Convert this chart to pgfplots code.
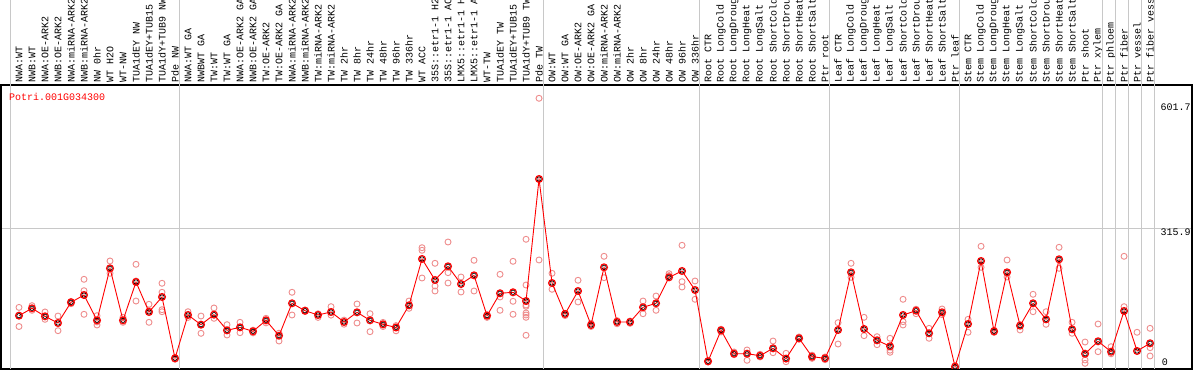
\documentclass[border=0pt]{standalone}
\usepackage{pgfplots}
\pgfplotsset{compat=1.18}
\usepackage{pgfplotstable}
\usepackage{fontspec}
\setmonofont{Liberation Mono}
\definecolor{sepgray}{RGB}{200,200,200}
\definecolor{reppink}{RGB}{238,140,140}
\pgfplotstableread{
x y
1 123.8
2 140
3 122.4
4 107.7
5 153.2
6 169.2
7 113.6
8 227.9
9 113.6
10 197.8
11 131.9
12 164.9
13 30.1
14 125.3
15 104
16 126
17 91.6
18 98.2
19 89.4
20 113.6
21 79.8
22 151
23 134.7
24 125.3
25 131.9
26 109.9
27 131.2
28 113.6
29 104.8
30 97.8
31 146.6
32 248.4
33 202.2
34 232.3
35 193.4
36 212.5
37 123.8
38 173
39 175.2
40 156
41 424.2
42 195.6
43 127.5
44 178
45 103.3
46 230.1
47 109.9
48 109.9
49 142.2
50 151
51 208.1
52 222
53 180.2
54 23.5
55 91.6
56 40.2
57 40.2
58 35.8
59 52.1
60 29.5
61 74.1
62 33.6
63 30.1
64 92.3
65 219.1
66 94.5
67 69.7
68 56.5
69 125.3
70 134.7
71 85.1
72 131.2
73 11.6
74 105.5
75 244
76 89.4
77 219.1
78 101.8
79 151
80 115.8
81 247.7
82 93.8
83 40.2
84 67.5
85 44.6
86 134.1
87 46.2
88 63.1
}\meantable
\pgfplotstableread{
x y
1 142
1 100
1 124
2 145.8
2 135.6
3 131.9
3 115.8
4 123
4 90.8
5 155
5 150
6 203.7
6 178.7
6 126.8
7 123.8
7 103.3
7 110
8 244
8 216.9
9 120.2
9 109.2
10 236.7
10 156
10 200
11 148.8
11 109.2
11 135
12 195
12 175.2
12 136.9
12 132.5
13 32
13 28
14 132.5
14 120
15 123
15 85
15 104
16 140.7
16 118
17 104
17 81.3
18 109.2
18 86.4
19 92
19 86
20 118
20 108
21 85.3
21 68.1
22 175.2
22 125.3
23 136
23 133
24 128
24 120
25 143.6
25 125
26 114
26 105
27 149.5
27 107.7
28 128.1
28 88.6
29 109
29 100
30 102
30 90.5
31 156
31 140
32 273.2
32 267.5
32 206.6
33 238.9
33 189
33 178
34 285.7
34 218.3
34 195.6
35 208.8
35 175.8
36 245.5
36 178
37 126
37 120
38 214.7
38 164.9
38 135.6
39 243.3
39 155.4
39 126.8
40 291.7
40 191.2
40 147.3
40 144.4
40 129.7
40 125.3
40 120.2
40 80.7
41 601.6
41 246.2
42 216.9
42 181.8
43 129
43 124
44 201.6
44 153.9
45 107
45 100
46 254.3
46 207.3
47 113
47 106
48 112
48 107
49 156
49 128.1
50 167
50 135.6
51 216.1
51 212
52 278.5
52 198.5
52 186.8
53 200
53 159.8
54 25
54 22
55 88
55 94
56 44
56 38
57 48.4
57 25.7
58 39
58 33
59 68.1
59 42.4
60 41.1
60 22.6
61 77
61 72
62 37
62 30
63 33
63 27
64 108.4
64 61.5
65 238.9
65 208.1
66 120.2
66 79.8
67 77.6
67 60
68 74.1
68 48
68 43.3
69 159.8
69 110.6
69 103.3
70 138
70 128.1
71 96
71 74.1
72 138.5
72 126
73 14
73 9
74 115.8
74 87.3
75 276.3
75 230.1
76 92
76 87
77 246.2
77 208.8
78 104
78 92.3
79 170.8
79 132.5
80 132.5
80 104.8
81 274.1
81 227.9
82 109.2
82 85.1
83 65.9
83 26.4
83 19.1
84 105.5
84 44.6
85 55.6
85 40
86 254.3
86 143.6
86 4.4
87 87.3
87 4.4
88 96
88 53.4
88 35.2
}\reptable
\begin{document}
\begin{tikzpicture}
\begin{axis}[
  at={(0,0)}, anchor=south west,
  scale only axis,
  width=1191bp, height=284bp,
  xmin=-0.3846, xmax=91.2308,
  ymin=6.59, ymax=630.8,
  axis line style={black, line width=1.3bp},
  clip marker paths=true,
  xtick={1,...,88},
  xticklabels={NWA:WT,NWB:WT,NWA:OE-ARK2,NWB:OE-ARK2,NWA:miRNA-ARK2,NWB:miRNA-ARK2,NW 0hr,WT H2O,WT-NW,TUA1dEY NW,TUA1dEY+TUB15,TUA1dY+TUB9 NW,Pde NW,NWA:WT GA,NWBWT GA,TW:WT,TW:WT GA,NWA:OE-ARK2 GA,NWB:OE-ARK2 GA,TW:OE-ARK2,TW:OE-ARK2 GA,NWA:miRNA-ARK2,NWB:miRNA-ARK2,TW:miRNA-ARK2,TW:miRNA-ARK2,TW 2hr,TW 8hr,TW 24hr,TW 48hr,TW 96hr,TW 336hr,WT ACC,35S::etr1-1 H2,35S::etr1-1 AC,LMX5::etr1-1 H,LMX5::etr1-1 A,WT-TW,TUA1dEY TW,TUA1dEY+TUB15,TUA1dY+TUB9 TW,Pde TW,OW:WT,OW:WT GA,OW:OE-ARK2,OW:OE-ARK2 GA,OW:miRNA-ARK2,OW:miRNA-ARK2,OW 2hr,OW 8hr,OW 24hr,OW 48hr,OW 96hr,OW 336hr,Root CTR,Root LongCold,Root LongDroug,Root LongHeat,Root LongSalt,Root ShortCold,Root ShortDrou,Root ShortHeat,Root ShortSalt,Ptr root,Leaf CTR,Leaf LongCold,Leaf LongDroug,Leaf LongHeat,Leaf LongSalt,Leaf ShortCold,Leaf ShortDrou,Leaf ShortHeat,Leaf ShortSalt,Ptr leaf,Stem CTR,Stem LongCold,Stem LongDroug,Stem LongHeat,Stem LongSalt,Stem ShortCold,Stem ShortDrou,Stem ShortHeat,Stem ShortSalt,Ptr shoot,Ptr xylem,Ptr phloem,Ptr fiber,Ptr vessel,Ptr fiber vess},
  xtick pos=right,
  xticklabel pos=right,
  major tick length=0pt,
  xticklabel shift=2bp,
  xticklabel style={rotate=90, anchor=west, inner sep=0pt, font=\ttfamily\fontsize{10bp}{12bp}\selectfont},
  extra x ticks={0.36,13.36,41.36,53.36,63.36,73.36,84.36,85.36,86.36,87.36,88.36},
  extra x tick labels={},
  extra x tick style={grid=major, major tick length=90bp, tick align=outside,
     tick style={draw=sepgray, line width=1bp},
     major grid style={draw=sepgray, line width=1bp}},
  ytick={315.9},
  yticklabels={},
  ymajorgrids=true,
  major grid style={draw=sepgray, line width=1bp},
]
\addplot[only marks, mark=o, mark size=3bp, mark options={draw=reppink, line width=0.9bp}] table[x=x,y=y] {\reptable};
\addplot[red, line width=0.9bp, mark=o, mark size=3.4bp, mark options={draw=red, line width=1.2bp}] table[x=x,y=y] {\meantable};
\addplot[only marks, mark=o, mark size=2.2bp, mark options={draw=black, line width=0.6bp}] table[x=x,y=y] {\meantable};
\coordinate (ttl) at (axis cs:0.23,604.5);
\coordinate (lA) at (axis cs:88.8,581);
\coordinate (lB) at (axis cs:88.8,306.2);
\coordinate (lC) at (axis cs:88.9,22.6);
\end{axis}
\node[anchor=west, inner sep=0pt, text=red, font=\ttfamily\fontsize{10bp}{12bp}\selectfont] at (ttl) {Potri.001G034300};
\node[anchor=west, inner sep=0pt, font=\ttfamily\fontsize{10bp}{12bp}\selectfont] at (lA) {601.7};
\node[anchor=west, inner sep=0pt, font=\ttfamily\fontsize{10bp}{12bp}\selectfont] at (lB) {315.9};
\node[anchor=west, inner sep=0pt, font=\ttfamily\fontsize{10bp}{12bp}\selectfont] at (lC) {0};
\pgfresetboundingbox
\path[use as bounding box] (-1bp,-1bp) rectangle (1193bp,369bp);
\end{tikzpicture}
\end{document}
